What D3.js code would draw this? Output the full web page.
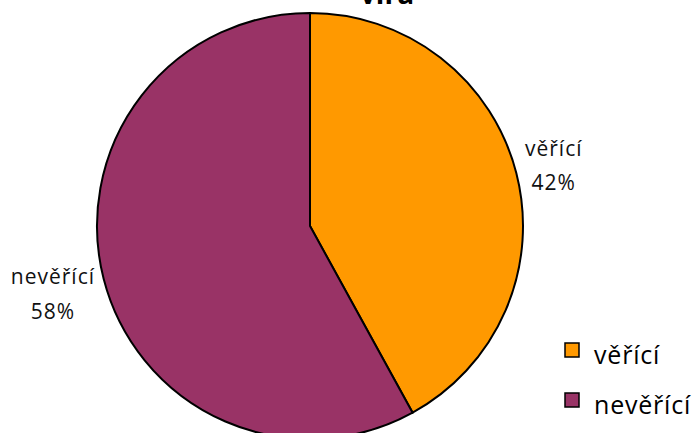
<!DOCTYPE html>
<html>
<head>
<meta charset="utf-8">
<script src="https://cdn.jsdelivr.net/npm/d3@7"></script>
<style>
body { margin: 0; background: #fff; }
text { font-family: "Open Sans", sans-serif; }
</style>
</head>
<body>
<svg></svg>
<script>
var categories = ["věřící", "nevěřící"];
var values = [42, 58];
var colors = ["#FF9900", "#993366"];
var title = "víra";

var width = 699, height = 433;
var cx = 310, cy = 226, radius = 213;

var svg = d3.select("svg").attr("width", width).attr("height", height);

svg.append("text")
    .attr("x", 387).attr("y", 4)
    .attr("text-anchor", "middle")
    .style("font-weight", "bold")
    .style("font-size", "28px")
    .text(title);

var pie = d3.pie().sort(null)(values);
var arc = d3.arc().innerRadius(0).outerRadius(radius);
var color = d3.scaleOrdinal().domain(categories).range(colors);

var g = svg.append("g").attr("transform", "translate(" + cx + "," + cy + ")");

g.selectAll("path")
    .data(pie)
  .enter().append("path")
    .attr("d", arc)
    .style("fill", function(d, i) { return color(categories[i]); })
    .style("stroke", "#000")
    .style("stroke-width", 2);

// data labels, outside the pie: box edge just off the rim, centred text
var lab = g.selectAll(".lbl")
    .data(pie)
  .enter().append("text")
    .attr("class", "lbl")
    .attr("text-anchor", "middle")
    .style("font-size", "21px")
    .style("letter-spacing", "1px")
    .style("fill", "#111");
lab.append("tspan").attr("x", 0).attr("dy", "-0.3em").text(function(d, i) { return categories[i]; });
lab.append("tspan").attr("x", 0).attr("dy", "1.65em").text(function(d) { return d.data + "%"; });
lab.attr("transform", function(d) {
  var a = (d.startAngle + d.endAngle) / 2;
  var s = Math.sin(a) > 0 ? 1 : -1;
  var w = this.getBBox().width;
  var x = s * (radius + 2) + s * w / 2;
  var y = -(radius + 45) * Math.cos(a);
  return "translate(" + x + "," + y + ")";
});

// legend
var leg = svg.append("g").attr("transform", "translate(565,343)");
var item = leg.selectAll("g")
    .data(categories)
  .enter().append("g")
    .attr("transform", function(d, i) { return "translate(0," + i * 50 + ")"; });
item.append("rect")
    .attr("width", 14).attr("height", 14)
    .style("fill", function(d) { return color(d); })
    .style("stroke", "#000").style("stroke-width", 1.5);
item.append("text")
    .attr("x", 29).attr("y", 21)
    .style("font-size", "25px")
    .style("letter-spacing", "0.8px")
    .text(function(d) { return d; });
</script>
</body>
</html>
